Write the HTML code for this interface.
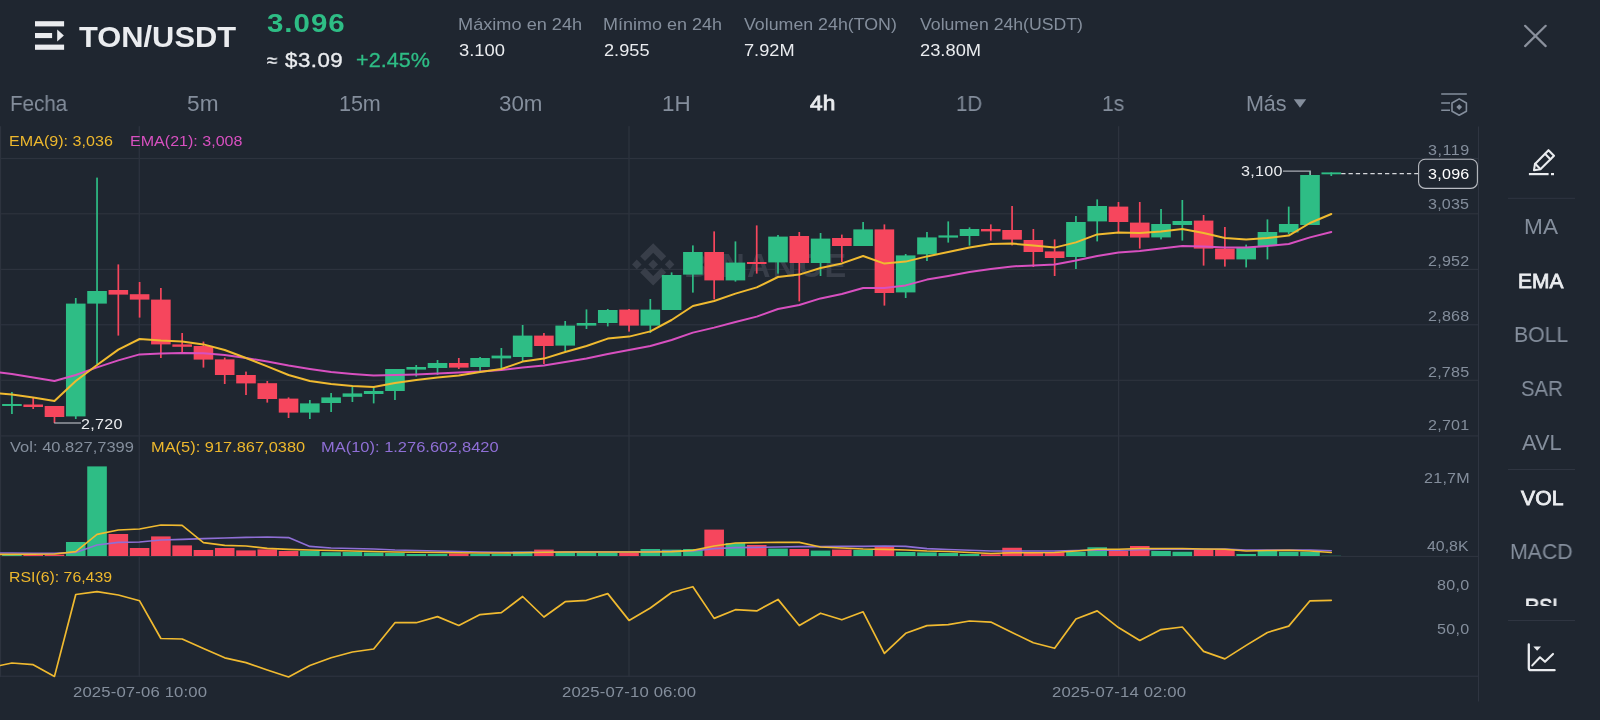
<!DOCTYPE html>
<html><head><meta charset="utf-8"><title>TON/USDT</title>
<style>
html,body{margin:0;padding:0;background:#1f2630;}
body{width:1600px;height:720px;position:relative;overflow:hidden;font-family:"Liberation Sans",sans-serif;}
.t{position:absolute;transform-origin:0 0;will-change:transform;white-space:pre;line-height:1;font-family:"Liberation Sans",sans-serif;display:block}
</style></head><body>
<svg width="1600" height="720" viewBox="0 0 1600 720" style="position:absolute;left:0;top:0"><rect x="0" y="157.90" width="1478" height="1.2" fill="#2d333e"/><rect x="0" y="213.20" width="1478" height="1.2" fill="#2d333e"/><rect x="0" y="268.80" width="1478" height="1.2" fill="#2d333e"/><rect x="0" y="324.15" width="1478" height="1.2" fill="#2d333e"/><rect x="0" y="379.70" width="1478" height="1.2" fill="#2d333e"/><rect x="0" y="435.30" width="1478" height="1.2" fill="#2d333e"/><rect x="0" y="555.85" width="1478" height="1.2" fill="#2d333e"/><rect x="0" y="675.65" width="1478" height="1.2" fill="#2d333e"/><rect x="-0.15" y="126.2" width="1.3" height="550.9" fill="#2d333e"/><rect x="138.65" y="126.2" width="1.3" height="550.9" fill="#2d333e"/><rect x="628.35" y="126.2" width="1.3" height="550.9" fill="#2d333e"/><rect x="1117.95" y="126.2" width="1.3" height="550.9" fill="#2d333e"/><rect x="1478" y="126.5" width="1" height="575" fill="#2f3541"/><g fill="#383e49" transform="translate(632,243.2) scale(0.3349)"><path d="M38.73 53.2 63.3 28.63l24.58 24.58 14.3-14.3L63.3 0 24.43 38.9l14.3 14.3zM0 63.31l14.3-14.31 14.3 14.31-14.3 14.3zm38.73 10.1L63.3 97.98l24.58-24.58 14.31 14.29-38.88 38.92-38.9-38.88zM98 63.31l14.3-14.31 14.31 14.3-14.31 14.32zM77.83 63.3 63.3 48.78 52.57 59.51l-1.24 1.23-2.54 2.54 14.51 14.5 14.53-14.47z"/></g></svg>
<div id="wm"><span class="t" style="left:684px;top:249.6px;font-size:32.6px;font-weight:700;letter-spacing:2.3px;color:#383e49">BINANCE</span></div>
<svg width="1600" height="720" viewBox="0 0 1600 720" style="position:absolute;left:0;top:0"><rect x="11.07" y="392.00" width="1.7" height="22.00" fill="#2ebd85"/><rect x="2.12" y="404.00" width="19.60" height="2.00" fill="#2ebd85"/><rect x="32.35" y="398.00" width="1.7" height="11.00" fill="#f6465d"/><rect x="23.40" y="404.50" width="19.60" height="2.50" fill="#f6465d"/><rect x="53.63" y="406.00" width="1.7" height="17.00" fill="#f6465d"/><rect x="44.68" y="406.00" width="19.60" height="11.00" fill="#f6465d"/><rect x="74.91" y="298.00" width="1.7" height="121.00" fill="#2ebd85"/><rect x="65.96" y="303.60" width="19.60" height="112.80" fill="#2ebd85"/><rect x="96.19" y="177.60" width="1.7" height="186.40" fill="#2ebd85"/><rect x="87.24" y="291.00" width="19.60" height="12.60" fill="#2ebd85"/><rect x="117.47" y="264.40" width="1.7" height="71.20" fill="#f6465d"/><rect x="108.52" y="290.00" width="19.60" height="4.60" fill="#f6465d"/><rect x="138.75" y="282.00" width="1.7" height="35.60" fill="#f6465d"/><rect x="129.80" y="294.20" width="19.60" height="5.40" fill="#f6465d"/><rect x="160.03" y="288.00" width="1.7" height="70.00" fill="#f6465d"/><rect x="151.08" y="299.60" width="19.60" height="44.80" fill="#f6465d"/><rect x="181.31" y="333.00" width="1.7" height="19.00" fill="#f6465d"/><rect x="172.36" y="344.40" width="19.60" height="2.40" fill="#f6465d"/><rect x="202.59" y="341.60" width="1.7" height="26.00" fill="#f6465d"/><rect x="193.64" y="346.00" width="19.60" height="13.60" fill="#f6465d"/><rect x="223.87" y="357.60" width="1.7" height="26.40" fill="#f6465d"/><rect x="214.92" y="359.40" width="19.60" height="15.60" fill="#f6465d"/><rect x="245.15" y="371.60" width="1.7" height="23.40" fill="#f6465d"/><rect x="236.20" y="375.00" width="19.60" height="8.40" fill="#f6465d"/><rect x="266.43" y="381.00" width="1.7" height="21.60" fill="#f6465d"/><rect x="257.48" y="383.20" width="19.60" height="15.80" fill="#f6465d"/><rect x="287.71" y="397.40" width="1.7" height="20.60" fill="#f6465d"/><rect x="278.76" y="398.60" width="19.60" height="14.00" fill="#f6465d"/><rect x="308.99" y="400.00" width="1.7" height="19.00" fill="#2ebd85"/><rect x="300.04" y="403.40" width="19.60" height="9.20" fill="#2ebd85"/><rect x="330.27" y="393.00" width="1.7" height="19.00" fill="#2ebd85"/><rect x="321.32" y="397.40" width="19.60" height="5.60" fill="#2ebd85"/><rect x="351.55" y="387.00" width="1.7" height="15.00" fill="#2ebd85"/><rect x="342.60" y="393.40" width="19.60" height="3.40" fill="#2ebd85"/><rect x="372.83" y="386.00" width="1.7" height="17.40" fill="#2ebd85"/><rect x="363.88" y="391.00" width="19.60" height="3.00" fill="#2ebd85"/><rect x="394.11" y="369.00" width="1.7" height="31.00" fill="#2ebd85"/><rect x="385.16" y="369.00" width="19.60" height="22.00" fill="#2ebd85"/><rect x="415.39" y="365.00" width="1.7" height="11.60" fill="#2ebd85"/><rect x="406.44" y="367.00" width="19.60" height="2.60" fill="#2ebd85"/><rect x="436.67" y="360.00" width="1.7" height="15.00" fill="#2ebd85"/><rect x="427.72" y="363.00" width="19.60" height="5.00" fill="#2ebd85"/><rect x="457.95" y="358.00" width="1.7" height="11.00" fill="#f6465d"/><rect x="449.00" y="363.00" width="19.60" height="4.60" fill="#f6465d"/><rect x="479.23" y="357.00" width="1.7" height="14.00" fill="#2ebd85"/><rect x="470.28" y="358.00" width="19.60" height="9.00" fill="#2ebd85"/><rect x="500.51" y="348.00" width="1.7" height="22.00" fill="#2ebd85"/><rect x="491.56" y="355.60" width="19.60" height="2.80" fill="#2ebd85"/><rect x="521.79" y="325.00" width="1.7" height="36.00" fill="#2ebd85"/><rect x="512.84" y="335.60" width="19.60" height="21.40" fill="#2ebd85"/><rect x="543.07" y="333.00" width="1.7" height="31.00" fill="#f6465d"/><rect x="534.12" y="335.60" width="19.60" height="10.40" fill="#f6465d"/><rect x="564.35" y="321.00" width="1.7" height="30.00" fill="#2ebd85"/><rect x="555.40" y="325.60" width="19.60" height="20.00" fill="#2ebd85"/><rect x="585.63" y="309.40" width="1.7" height="19.60" fill="#2ebd85"/><rect x="576.68" y="323.00" width="19.60" height="2.60" fill="#2ebd85"/><rect x="606.91" y="309.00" width="1.7" height="17.40" fill="#2ebd85"/><rect x="597.96" y="310.00" width="19.60" height="13.00" fill="#2ebd85"/><rect x="628.19" y="309.00" width="1.7" height="22.60" fill="#f6465d"/><rect x="619.24" y="309.60" width="19.60" height="16.00" fill="#f6465d"/><rect x="649.47" y="299.00" width="1.7" height="34.00" fill="#2ebd85"/><rect x="640.52" y="309.60" width="19.60" height="16.00" fill="#2ebd85"/><rect x="670.75" y="272.40" width="1.7" height="37.60" fill="#2ebd85"/><rect x="661.80" y="275.00" width="19.60" height="35.00" fill="#2ebd85"/><rect x="692.03" y="245.40" width="1.7" height="47.20" fill="#2ebd85"/><rect x="683.08" y="252.00" width="19.60" height="22.60" fill="#2ebd85"/><rect x="713.31" y="231.40" width="1.7" height="68.00" fill="#f6465d"/><rect x="704.36" y="252.00" width="19.60" height="28.40" fill="#f6465d"/><rect x="734.59" y="241.40" width="1.7" height="40.20" fill="#2ebd85"/><rect x="725.64" y="262.60" width="19.60" height="17.80" fill="#2ebd85"/><rect x="755.87" y="225.40" width="1.7" height="48.20" fill="#f6465d"/><rect x="746.92" y="262.00" width="19.60" height="2.00" fill="#f6465d"/><rect x="777.15" y="235.00" width="1.7" height="38.60" fill="#2ebd85"/><rect x="768.20" y="236.60" width="19.60" height="25.80" fill="#2ebd85"/><rect x="798.43" y="232.00" width="1.7" height="69.40" fill="#f6465d"/><rect x="789.48" y="236.00" width="19.60" height="27.00" fill="#f6465d"/><rect x="819.71" y="233.00" width="1.7" height="43.00" fill="#2ebd85"/><rect x="810.76" y="238.60" width="19.60" height="24.40" fill="#2ebd85"/><rect x="840.99" y="234.60" width="1.7" height="27.40" fill="#f6465d"/><rect x="832.04" y="238.00" width="19.60" height="8.00" fill="#f6465d"/><rect x="862.27" y="222.00" width="1.7" height="24.00" fill="#2ebd85"/><rect x="853.32" y="229.40" width="19.60" height="16.60" fill="#2ebd85"/><rect x="883.55" y="224.40" width="1.7" height="81.20" fill="#f6465d"/><rect x="874.60" y="229.40" width="19.60" height="63.60" fill="#f6465d"/><rect x="904.83" y="254.00" width="1.7" height="44.00" fill="#2ebd85"/><rect x="895.88" y="255.40" width="19.60" height="37.00" fill="#2ebd85"/><rect x="926.11" y="232.00" width="1.7" height="29.00" fill="#2ebd85"/><rect x="917.16" y="237.40" width="19.60" height="17.00" fill="#2ebd85"/><rect x="947.39" y="221.40" width="1.7" height="21.20" fill="#2ebd85"/><rect x="938.44" y="235.40" width="19.60" height="2.20" fill="#2ebd85"/><rect x="968.67" y="227.40" width="1.7" height="18.20" fill="#2ebd85"/><rect x="959.72" y="229.00" width="19.60" height="7.00" fill="#2ebd85"/><rect x="989.95" y="224.40" width="1.7" height="16.20" fill="#f6465d"/><rect x="981.00" y="229.00" width="19.60" height="2.40" fill="#f6465d"/><rect x="1011.23" y="206.00" width="1.7" height="39.40" fill="#f6465d"/><rect x="1002.28" y="230.00" width="19.60" height="9.60" fill="#f6465d"/><rect x="1032.51" y="229.00" width="1.7" height="38.00" fill="#f6465d"/><rect x="1023.56" y="240.00" width="19.60" height="12.00" fill="#f6465d"/><rect x="1053.79" y="239.40" width="1.7" height="36.60" fill="#f6465d"/><rect x="1044.84" y="251.40" width="19.60" height="6.60" fill="#f6465d"/><rect x="1075.07" y="216.00" width="1.7" height="53.00" fill="#2ebd85"/><rect x="1066.12" y="222.00" width="19.60" height="35.00" fill="#2ebd85"/><rect x="1096.35" y="199.40" width="1.7" height="42.00" fill="#2ebd85"/><rect x="1087.40" y="206.00" width="19.60" height="15.40" fill="#2ebd85"/><rect x="1117.63" y="202.00" width="1.7" height="31.00" fill="#f6465d"/><rect x="1108.68" y="206.60" width="19.60" height="15.40" fill="#f6465d"/><rect x="1138.91" y="202.00" width="1.7" height="46.60" fill="#f6465d"/><rect x="1129.96" y="222.60" width="19.60" height="15.00" fill="#f6465d"/><rect x="1160.19" y="209.00" width="1.7" height="30.40" fill="#2ebd85"/><rect x="1151.24" y="224.00" width="19.60" height="13.40" fill="#2ebd85"/><rect x="1181.47" y="200.00" width="1.7" height="40.60" fill="#2ebd85"/><rect x="1172.52" y="221.00" width="19.60" height="4.00" fill="#2ebd85"/><rect x="1202.75" y="215.00" width="1.7" height="50.60" fill="#f6465d"/><rect x="1193.80" y="220.60" width="19.60" height="28.00" fill="#f6465d"/><rect x="1224.03" y="227.00" width="1.7" height="39.60" fill="#f6465d"/><rect x="1215.08" y="248.60" width="19.60" height="10.80" fill="#f6465d"/><rect x="1245.31" y="244.60" width="1.7" height="22.80" fill="#2ebd85"/><rect x="1236.36" y="247.00" width="19.60" height="12.40" fill="#2ebd85"/><rect x="1266.59" y="219.40" width="1.7" height="40.00" fill="#2ebd85"/><rect x="1257.64" y="232.00" width="19.60" height="14.00" fill="#2ebd85"/><rect x="1287.87" y="206.60" width="1.7" height="27.40" fill="#2ebd85"/><rect x="1278.92" y="224.00" width="19.60" height="8.40" fill="#2ebd85"/><rect x="1309.15" y="171.00" width="1.7" height="54.00" fill="#2ebd85"/><rect x="1300.20" y="175.00" width="19.60" height="50.00" fill="#2ebd85"/><rect x="1330.43" y="172.40" width="1.7" height="3.60" fill="#2ebd85"/><rect x="1321.48" y="172.40" width="19.60" height="1.90" fill="#2ebd85"/><polyline points="0,372.40 11.92,374.00 33.20,377.50 54.48,381.00 75.76,375.00 97.04,367.40 118.32,360.40 139.60,354.40 160.88,353.60 182.16,353.00 203.44,353.20 224.72,355.00 246.00,358.00 267.28,361.60 288.56,365.60 309.84,369.00 331.12,372.00 352.40,374.00 373.68,375.60 394.96,375.00 416.24,374.40 437.52,373.40 458.80,372.60 480.08,371.60 501.36,370.00 522.64,367.60 543.92,365.60 565.20,362.00 586.48,358.60 607.76,354.00 629.04,350.00 650.32,346.00 671.60,340.00 692.88,332.60 714.16,327.60 735.44,322.00 756.72,316.60 778.00,309.00 799.28,305.00 820.56,298.40 841.84,294.00 863.12,288.00 884.40,288.00 905.68,285.40 926.96,279.60 948.24,276.00 969.52,272.00 990.80,269.00 1012.08,266.40 1033.36,265.40 1054.64,264.60 1075.92,260.60 1097.20,256.00 1118.48,252.60 1139.76,251.00 1161.04,248.60 1182.32,246.00 1203.60,246.40 1224.88,247.60 1246.16,247.40 1267.44,246.00 1288.72,244.00 1310.00,237.40 1331.28,232.00" fill="none" stroke="#d850c0" stroke-width="2.00" stroke-linejoin="round" stroke-linecap="round"/><polyline points="0,393.40 11.92,394.50 33.20,397.50 54.48,401.00 75.76,381.00 97.04,365.00 118.32,349.60 139.60,339.00 160.88,340.60 182.16,341.60 203.44,344.40 224.72,350.00 246.00,358.00 267.28,366.40 288.56,375.00 309.84,381.00 331.12,384.00 352.40,386.00 373.68,387.00 394.96,383.00 416.24,380.00 437.52,377.40 458.80,375.60 480.08,372.00 501.36,369.00 522.64,361.60 543.92,358.60 565.20,352.00 586.48,346.00 607.76,338.60 629.04,336.60 650.32,331.40 671.60,320.00 692.88,306.00 714.16,301.00 735.44,293.60 756.72,287.40 778.00,277.00 799.28,274.60 820.56,268.00 841.84,263.40 863.12,256.00 884.40,263.60 905.68,261.60 926.96,256.40 948.24,252.00 969.52,247.40 990.80,244.00 1012.08,243.60 1033.36,245.40 1054.64,247.60 1075.92,242.40 1097.20,234.40 1118.48,232.40 1139.76,233.00 1161.04,231.40 1182.32,229.00 1203.60,233.00 1224.88,238.00 1246.16,239.40 1267.44,238.00 1288.72,235.60 1310.00,223.00 1331.28,214.00" fill="none" stroke="#f0ba30" stroke-width="2.00" stroke-linejoin="round" stroke-linecap="round"/><rect x="2.12" y="554.60" width="19.60" height="1.40" fill="#2ebd85"/><rect x="23.40" y="554.80" width="19.60" height="1.20" fill="#f6465d"/><rect x="44.68" y="554.60" width="19.60" height="1.40" fill="#f6465d"/><rect x="65.96" y="542.00" width="19.60" height="14.00" fill="#2ebd85"/><rect x="87.24" y="466.40" width="19.60" height="89.60" fill="#2ebd85"/><rect x="108.52" y="534.00" width="19.60" height="22.00" fill="#f6465d"/><rect x="129.80" y="548.00" width="19.60" height="8.00" fill="#f6465d"/><rect x="151.08" y="536.40" width="19.60" height="19.60" fill="#f6465d"/><rect x="172.36" y="545.40" width="19.60" height="10.60" fill="#f6465d"/><rect x="193.64" y="550.00" width="19.60" height="6.00" fill="#f6465d"/><rect x="214.92" y="548.00" width="19.60" height="8.00" fill="#f6465d"/><rect x="236.20" y="550.40" width="19.60" height="5.60" fill="#f6465d"/><rect x="257.48" y="549.40" width="19.60" height="6.60" fill="#f6465d"/><rect x="278.76" y="551.00" width="19.60" height="5.00" fill="#f6465d"/><rect x="300.04" y="550.80" width="19.60" height="5.20" fill="#2ebd85"/><rect x="321.32" y="552.20" width="19.60" height="3.80" fill="#2ebd85"/><rect x="342.60" y="552.00" width="19.60" height="4.00" fill="#2ebd85"/><rect x="363.88" y="552.50" width="19.60" height="3.50" fill="#2ebd85"/><rect x="385.16" y="553.00" width="19.60" height="3.00" fill="#2ebd85"/><rect x="406.44" y="554.00" width="19.60" height="2.00" fill="#2ebd85"/><rect x="427.72" y="554.00" width="19.60" height="2.00" fill="#2ebd85"/><rect x="449.00" y="553.50" width="19.60" height="2.50" fill="#f6465d"/><rect x="470.28" y="554.00" width="19.60" height="2.00" fill="#2ebd85"/><rect x="491.56" y="554.00" width="19.60" height="2.00" fill="#2ebd85"/><rect x="512.84" y="551.50" width="19.60" height="4.50" fill="#2ebd85"/><rect x="534.12" y="549.60" width="19.60" height="6.40" fill="#f6465d"/><rect x="555.40" y="552.00" width="19.60" height="4.00" fill="#2ebd85"/><rect x="576.68" y="553.00" width="19.60" height="3.00" fill="#2ebd85"/><rect x="597.96" y="553.00" width="19.60" height="3.00" fill="#2ebd85"/><rect x="619.24" y="553.00" width="19.60" height="3.00" fill="#f6465d"/><rect x="640.52" y="549.00" width="19.60" height="7.00" fill="#2ebd85"/><rect x="661.80" y="549.60" width="19.60" height="6.40" fill="#2ebd85"/><rect x="683.08" y="549.00" width="19.60" height="7.00" fill="#2ebd85"/><rect x="704.36" y="529.60" width="19.60" height="26.40" fill="#f6465d"/><rect x="725.64" y="543.00" width="19.60" height="13.00" fill="#2ebd85"/><rect x="746.92" y="545.00" width="19.60" height="11.00" fill="#f6465d"/><rect x="768.20" y="548.60" width="19.60" height="7.40" fill="#2ebd85"/><rect x="789.48" y="549.00" width="19.60" height="7.00" fill="#f6465d"/><rect x="810.76" y="550.60" width="19.60" height="5.40" fill="#2ebd85"/><rect x="832.04" y="549.60" width="19.60" height="6.40" fill="#f6465d"/><rect x="853.32" y="550.00" width="19.60" height="6.00" fill="#2ebd85"/><rect x="874.60" y="546.00" width="19.60" height="10.00" fill="#f6465d"/><rect x="895.88" y="552.00" width="19.60" height="4.00" fill="#2ebd85"/><rect x="917.16" y="552.40" width="19.60" height="3.60" fill="#2ebd85"/><rect x="938.44" y="553.00" width="19.60" height="3.00" fill="#2ebd85"/><rect x="959.72" y="554.00" width="19.60" height="2.00" fill="#2ebd85"/><rect x="981.00" y="554.30" width="19.60" height="1.70" fill="#f6465d"/><rect x="1002.28" y="547.75" width="19.60" height="8.25" fill="#f6465d"/><rect x="1023.56" y="552.25" width="19.60" height="3.75" fill="#f6465d"/><rect x="1044.84" y="552.25" width="19.60" height="3.75" fill="#f6465d"/><rect x="1066.12" y="551.75" width="19.60" height="4.25" fill="#2ebd85"/><rect x="1087.40" y="547.25" width="19.60" height="8.75" fill="#2ebd85"/><rect x="1108.68" y="551.00" width="19.60" height="5.00" fill="#f6465d"/><rect x="1129.96" y="546.00" width="19.60" height="10.00" fill="#f6465d"/><rect x="1151.24" y="551.00" width="19.60" height="5.00" fill="#2ebd85"/><rect x="1172.52" y="551.75" width="19.60" height="4.25" fill="#2ebd85"/><rect x="1193.80" y="549.75" width="19.60" height="6.25" fill="#f6465d"/><rect x="1215.08" y="549.75" width="19.60" height="6.25" fill="#f6465d"/><rect x="1236.36" y="554.00" width="19.60" height="2.00" fill="#2ebd85"/><rect x="1257.64" y="551.00" width="19.60" height="5.00" fill="#2ebd85"/><rect x="1278.92" y="551.75" width="19.60" height="4.25" fill="#2ebd85"/><rect x="1300.20" y="551.75" width="19.60" height="4.25" fill="#2ebd85"/><rect x="1321.48" y="555.80" width="19.60" height="0.20" fill="#2ebd85"/><polyline points="0,553.00 11.92,553.00 33.20,553.20 54.48,553.40 75.76,552.40 97.04,545.00 118.32,542.40 139.60,542.00 160.88,540.00 182.16,539.40 203.44,538.60 224.72,538.00 246.00,537.40 267.28,537.00 288.56,537.60 309.84,546.40 331.12,548.00 352.40,548.50 373.68,549.00 394.96,550.00 416.24,550.50 437.52,551.00 458.80,551.50 480.08,552.00 501.36,552.30 522.64,552.40 543.92,552.20 565.20,552.00 586.48,552.00 607.76,552.00 629.04,552.00 650.32,551.60 671.60,551.40 692.88,551.00 714.16,548.60 735.44,547.60 756.72,547.40 778.00,547.00 799.28,546.60 820.56,546.60 841.84,546.40 863.12,546.40 884.40,546.00 905.68,546.40 926.96,548.60 948.24,549.50 969.52,550.25 990.80,551.00 1012.08,551.00 1033.36,551.00 1054.64,551.00 1075.92,550.50 1097.20,550.25 1118.48,550.25 1139.76,549.75 1161.04,549.25 1182.32,549.25 1203.60,549.25 1224.88,549.00 1246.16,550.00 1267.44,550.00 1288.72,550.00 1310.00,550.00 1331.28,550.70" fill="none" stroke="#8f6fd6" stroke-width="1.60" stroke-linejoin="round" stroke-linecap="round"/><polyline points="0,554.40 11.92,554.40 33.20,554.30 54.48,554.00 75.76,551.60 97.04,534.40 118.32,530.00 139.60,529.00 160.88,525.00 182.16,525.40 203.44,542.60 224.72,545.40 246.00,546.00 267.28,548.40 288.56,549.40 309.84,550.00 331.12,550.50 352.40,551.00 373.68,551.50 394.96,552.00 416.24,552.30 437.52,552.50 458.80,552.80 480.08,553.00 501.36,553.00 522.64,552.80 543.92,552.30 565.20,552.00 586.48,552.00 607.76,552.00 629.04,552.00 650.32,552.00 671.60,551.60 692.88,550.40 714.16,546.00 735.44,543.00 756.72,542.60 778.00,542.40 799.28,542.40 820.56,547.00 841.84,548.00 863.12,549.00 884.40,549.40 905.68,550.00 926.96,551.00 948.24,551.50 969.52,552.50 990.80,553.50 1012.08,552.75 1033.36,552.75 1054.64,552.50 1075.92,551.00 1097.20,549.25 1118.48,549.25 1139.76,548.50 1161.04,548.50 1182.32,548.50 1203.60,549.00 1224.88,549.25 1246.16,551.00 1267.44,550.50 1288.72,550.25 1310.00,551.00 1331.28,552.50" fill="none" stroke="#f0ba30" stroke-width="1.60" stroke-linejoin="round" stroke-linecap="round"/><polyline points="0,665.50 11.92,663.00 33.20,664.70 54.48,676.40 75.76,594.50 97.04,591.60 118.32,595.00 139.60,600.80 160.88,638.50 182.16,639.00 203.44,648.60 224.72,657.80 246.00,662.60 267.28,670.00 288.56,677.00 309.84,665.50 331.12,657.80 352.40,652.00 373.68,649.00 394.96,622.70 416.24,622.70 437.52,616.60 458.80,625.50 480.08,614.60 501.36,612.60 522.64,596.50 543.92,617.00 565.20,601.70 586.48,600.30 607.76,593.60 629.04,620.40 650.32,608.00 671.60,592.50 692.88,586.70 714.16,618.40 735.44,609.70 756.72,610.90 778.00,599.40 799.28,625.50 820.56,613.20 841.84,619.80 863.12,611.80 884.40,653.40 905.68,633.30 926.96,625.60 948.24,624.70 969.52,621.00 990.80,622.10 1012.08,632.50 1033.36,642.80 1054.64,648.30 1075.92,619.00 1097.20,610.90 1118.48,627.60 1139.76,640.50 1161.04,629.60 1182.32,627.00 1203.60,651.40 1224.88,658.90 1246.16,645.40 1267.44,632.50 1288.72,626.10 1310.00,600.80 1331.28,600.30" fill="none" stroke="#f0ba30" stroke-width="1.70" stroke-linejoin="round" stroke-linecap="round"/><path d="M1283,171.1 H1310.3 V175" fill="none" stroke="#a9adb4" stroke-width="1.2"/><path d="M54.2,423 H81" fill="none" stroke="#b4b8be" stroke-width="1.2"/><line x1="1341.2" y1="173.55" x2="1418" y2="173.55" stroke="#d5d7db" stroke-width="1.3" stroke-dasharray="4.3 3"/><rect x="1418.6" y="159.2" width="58.8" height="29.2" rx="6.5" fill="#1f2630" stroke="#b9bcc2" stroke-width="1.1"/><g fill="#eaecef"><rect x="35" y="21.2" width="29.1" height="5.2"/><rect x="35" y="33" width="17.1" height="5.1"/><rect x="35" y="44.6" width="29.1" height="5.2"/><path d="M57.2,29.5 L63.9,35.5 L57.2,41.5Z"/></g><path d="M1525.1,25.8 L1545.7,46.1 M1545.7,25.8 L1525.1,46.1" stroke="#8a909c" stroke-width="2.2" stroke-linecap="round"/><path d="M1293.75,99.3 H1306.25 L1300,107.8Z" fill="#848e9c"/><g stroke="#848e9c" stroke-width="1.6" fill="none"><path d="M1441.2,94 H1466.8 M1441.2,103 H1450 M1441.2,110.3 H1450"/><path d="M1459.2,98.9 L1466.4,103 V111.2 L1459.2,115.3 L1452,111.2 V103Z" stroke-linejoin="round"/></g><path d="M1459.2,104.2 L1462.1,107.1 L1459.2,110 L1456.3,107.1Z" fill="#848e9c"/><g stroke="#eaecef" stroke-width="2.1" fill="none" stroke-linejoin="round" stroke-linecap="round"><path d="M1548.5,150.2 L1554,155.7 L1540.4,169.2 L1534,170.2 L1535,163.9Z"/><path d="M1545,153.8 L1550.4,159.2 M1535.2,163.7 L1540.3,168.9"/></g><rect x="1528.9" y="173" width="19.7" height="2.2" fill="#eaecef"/><rect x="1551" y="173" width="3" height="2.2" fill="#eaecef"/><rect x="1508" y="197.8" width="67" height="1" fill="#2f3541"/><rect x="1508" y="469.0" width="67" height="1" fill="#2f3541"/><rect x="1508" y="620.0" width="67" height="1" fill="#2f3541"/><g stroke="#eaecef" stroke-width="2" fill="none" stroke-linejoin="round" stroke-linecap="round"><path d="M1528.8,644.4 V668 Q1528.8,670.2 1531,670.2 H1554.6" stroke-width="2.3"/><path d="M1532.3,665.4 L1540,657.3 L1545,661.8 L1553,653.9" stroke-width="2.1"/></g><path d="M1533.3,646.5 H1541 L1537.15,650.7Z" fill="#eaecef"/></svg>
<div id="labels">
<span class="t" style="left:78.90px;top:21.70px;font-size:30.00px;letter-spacing:0.003px;color:#eaecef;transform:scaleX(1.0278);font-weight:700;">TON/USDT</span>
<span class="t" style="left:266.64px;top:9.80px;font-size:26.34px;letter-spacing:0.863px;color:#2ebd85;transform:scaleX(1.1200);font-weight:700;">3.096</span>
<span class="t" style="left:267.45px;top:50.69px;font-size:19.71px;letter-spacing:0.000px;color:#eaecef;transform:scaleX(0.9569);-webkit-text-stroke:0.30px #eaecef;">≈</span>
<span class="t" style="left:284.81px;top:50.89px;font-size:19.92px;letter-spacing:0.426px;color:#eaecef;transform:scaleX(1.1200);-webkit-text-stroke:0.35px #eaecef;">$3.09</span>
<span class="t" style="left:356.46px;top:49.89px;font-size:19.99px;letter-spacing:0.038px;color:#2ebd85;transform:scaleX(1.0790);-webkit-text-stroke:0.30px #2ebd85;">+2.45%</span>
<span class="t" style="left:458.17px;top:15.85px;font-size:16.23px;letter-spacing:-0.001px;color:#848e9c;transform:scaleX(1.1200);">Máximo en 24h</span>
<span class="t" style="left:458.60px;top:43.00px;font-size:16.62px;letter-spacing:0.009px;color:#eaecef;transform:scaleX(1.1062);">3.100</span>
<span class="t" style="left:603.49px;top:15.85px;font-size:16.23px;letter-spacing:-0.004px;color:#848e9c;transform:scaleX(1.1086);">Mínimo en 24h</span>
<span class="t" style="left:603.90px;top:43.00px;font-size:16.62px;letter-spacing:0.029px;color:#eaecef;transform:scaleX(1.0925);">2.955</span>
<span class="t" style="left:744.25px;top:15.85px;font-size:16.23px;letter-spacing:0.004px;color:#848e9c;transform:scaleX(1.0955);">Volumen 24h(TON)</span>
<span class="t" style="left:743.50px;top:43.00px;font-size:16.62px;letter-spacing:-0.004px;color:#eaecef;transform:scaleX(1.0961);">7.92M</span>
<span class="t" style="left:920.35px;top:15.85px;font-size:16.23px;letter-spacing:-0.003px;color:#848e9c;transform:scaleX(1.0894);">Volumen 24h(USDT)</span>
<span class="t" style="left:919.60px;top:43.00px;font-size:16.62px;letter-spacing:0.010px;color:#eaecef;transform:scaleX(1.1014);">23.80M</span>
<span class="t" style="left:9.89px;top:92.90px;font-size:21.59px;letter-spacing:-0.089px;color:#848e9c;transform:scaleX(0.9602);">Fecha</span>
<span class="t" style="left:187.05px;top:92.90px;font-size:21.59px;letter-spacing:0.073px;color:#848e9c;transform:scaleX(1.0485);">5m</span>
<span class="t" style="left:338.62px;top:92.90px;font-size:21.59px;letter-spacing:-0.114px;color:#848e9c;transform:scaleX(0.9942);">15m</span>
<span class="t" style="left:499.42px;top:92.90px;font-size:21.59px;letter-spacing:-0.057px;color:#848e9c;transform:scaleX(1.0364);">30m</span>
<span class="t" style="left:662.16px;top:92.90px;font-size:21.59px;letter-spacing:-0.038px;color:#848e9c;transform:scaleX(1.0380);">1H</span>
<span class="t" style="left:810.45px;top:93.34px;font-size:20.43px;letter-spacing:0.154px;color:#eaecef;transform:scaleX(1.1081);-webkit-text-stroke:0.80px #eaecef;">4h</span>
<span class="t" style="left:955.76px;top:92.90px;font-size:21.59px;letter-spacing:-0.124px;color:#848e9c;transform:scaleX(0.9484);">1D</span>
<span class="t" style="left:1102.22px;top:92.90px;font-size:21.59px;letter-spacing:-0.022px;color:#848e9c;transform:scaleX(0.9751);">1s</span>
<span class="t" style="left:1245.79px;top:92.90px;font-size:21.59px;letter-spacing:-0.140px;color:#848e9c;transform:scaleX(0.9927);">Más</span>
<span class="t" style="left:9.03px;top:132.80px;font-size:15.07px;letter-spacing:0.009px;color:#eeb82d;transform:scaleX(1.0683);">EMA(9): 3,036</span>
<span class="t" style="left:129.63px;top:132.80px;font-size:15.07px;letter-spacing:-0.002px;color:#d850c0;transform:scaleX(1.0666);">EMA(21): 3,008</span>
<span class="t" style="left:10.14px;top:439.00px;font-size:15.07px;letter-spacing:0.013px;color:#848e9c;transform:scaleX(1.0945);">Vol: 40.827,7399</span>
<span class="t" style="left:150.51px;top:439.00px;font-size:15.07px;letter-spacing:0.009px;color:#eeb82d;transform:scaleX(1.0880);">MA(5): 917.867,0380</span>
<span class="t" style="left:321.40px;top:439.00px;font-size:15.07px;letter-spacing:0.003px;color:#8f6fd6;transform:scaleX(1.0928);">MA(10): 1.276.602,8420</span>
<span class="t" style="left:9.35px;top:569.20px;font-size:15.07px;letter-spacing:-0.005px;color:#eeb82d;transform:scaleX(1.0525);">RSI(6): 76,439</span>
<span class="t" style="left:1428.04px;top:142.90px;font-size:14.37px;letter-spacing:0.463px;color:#848e9c;transform:scaleX(1.1200);">3,119</span>
<span class="t" style="left:1428.04px;top:197.30px;font-size:14.37px;letter-spacing:0.173px;color:#848e9c;transform:scaleX(1.1200);">3,035</span>
<span class="t" style="left:1428.00px;top:253.60px;font-size:14.37px;letter-spacing:0.228px;color:#848e9c;transform:scaleX(1.1200);">2,952</span>
<span class="t" style="left:1428.00px;top:309.00px;font-size:14.37px;letter-spacing:0.218px;color:#848e9c;transform:scaleX(1.1200);">2,868</span>
<span class="t" style="left:1428.00px;top:364.60px;font-size:14.37px;letter-spacing:0.185px;color:#848e9c;transform:scaleX(1.1200);">2,785</span>
<span class="t" style="left:1428.00px;top:417.50px;font-size:14.37px;letter-spacing:0.221px;color:#848e9c;transform:scaleX(1.1200);">2,701</span>
<span class="t" style="left:1427.79px;top:166.60px;font-size:14.37px;letter-spacing:0.234px;color:#ffffff;transform:scaleX(1.1200);">3,096</span>
<span class="t" style="left:1423.95px;top:471.00px;font-size:14.37px;letter-spacing:0.226px;color:#848e9c;transform:scaleX(1.1200);">21,7M</span>
<span class="t" style="left:1427.49px;top:538.80px;font-size:14.37px;letter-spacing:-0.002px;color:#848e9c;transform:scaleX(1.1082);">40,8K</span>
<span class="t" style="left:1436.79px;top:577.80px;font-size:14.37px;letter-spacing:0.270px;color:#848e9c;transform:scaleX(1.1200);">80,0</span>
<span class="t" style="left:1436.68px;top:622.10px;font-size:14.37px;letter-spacing:0.279px;color:#848e9c;transform:scaleX(1.1200);">50,0</span>
<span class="t" style="left:1241.29px;top:164.20px;font-size:14.37px;letter-spacing:0.260px;color:#eaecef;transform:scaleX(1.1200);">3,100</span>
<span class="t" style="left:81.25px;top:417.00px;font-size:14.37px;letter-spacing:0.272px;color:#eaecef;transform:scaleX(1.1200);">2,720</span>
<span class="t" style="left:73.02px;top:685.10px;font-size:14.93px;letter-spacing:0.123px;color:#848e9c;transform:scaleX(1.1200);">2025-07-06 10:00</span>
<span class="t" style="left:562.22px;top:685.10px;font-size:14.93px;letter-spacing:0.123px;color:#848e9c;transform:scaleX(1.1200);">2025-07-10 06:00</span>
<span class="t" style="left:1051.72px;top:685.10px;font-size:14.93px;letter-spacing:0.123px;color:#848e9c;transform:scaleX(1.1200);">2025-07-14 02:00</span>
<span class="t" style="left:1523.90px;top:216.40px;font-size:21.59px;letter-spacing:0.081px;color:#848e9c;transform:scaleX(1.0472);">MA</span>
<span class="t" style="left:1517.83px;top:270.54px;font-size:20.43px;letter-spacing:0.127px;color:#eaecef;transform:scaleX(1.0230);-webkit-text-stroke:0.80px #eaecef;">EMA</span>
<span class="t" style="left:1513.79px;top:324.40px;font-size:21.59px;letter-spacing:-0.093px;color:#848e9c;transform:scaleX(0.9871);">BOLL</span>
<span class="t" style="left:1520.74px;top:378.40px;font-size:21.59px;letter-spacing:-0.039px;color:#848e9c;transform:scaleX(0.9433);">SAR</span>
<span class="t" style="left:1521.70px;top:432.40px;font-size:21.59px;letter-spacing:0.003px;color:#848e9c;transform:scaleX(1.0084);">AVL</span>
<span class="t" style="left:1520.57px;top:487.54px;font-size:20.43px;letter-spacing:0.081px;color:#eaecef;transform:scaleX(1.0350);-webkit-text-stroke:0.80px #eaecef;">VOL</span>
<span class="t" style="left:1509.69px;top:540.80px;font-size:21.59px;letter-spacing:-0.106px;color:#848e9c;transform:scaleX(0.9892);">MACD</span>
<span class="t" style="left:1524.86px;top:595.54px;font-size:20.43px;letter-spacing:-0.054px;color:#eaecef;transform:scaleX(0.9619);-webkit-text-stroke:0.80px #eaecef;height:10.46px;overflow:hidden;">RSI</span>
</div>
</body></html>
